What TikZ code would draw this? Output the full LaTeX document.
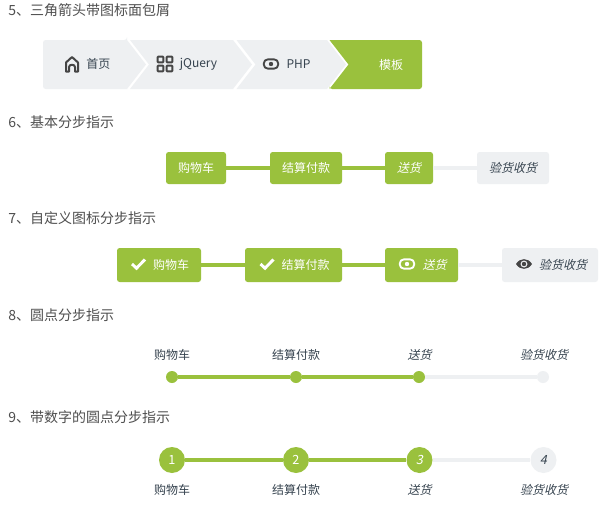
\documentclass[tikz,border=0pt]{standalone}
\usepackage{fontspec}
\setmainfont{Noto Sans CJK SC}
\newfontfamily\slantcjk[FakeSlant=0.22]{Noto Sans CJK SC}
\definecolor{grn}{HTML}{9AC13D}
\definecolor{pale}{HTML}{EEF0F2}
\definecolor{ink}{HTML}{36434F}
\definecolor{head}{HTML}{4F4F4F}
\definecolor{icon}{HTML}{454545}
\tikzset{
  px/.style={x=0.75pt,y=-0.75pt},
  title/.style={anchor=west,inner sep=0pt,text=head,font=\fontsize{10.5pt}{12pt}\selectfont},
  lab/.style={inner sep=0pt,text=ink,font=\fontsize{9pt}{11pt}\selectfont},
  labw/.style={inner sep=0pt,text=white,font=\fontsize{9pt}{11pt}\selectfont},
  labi/.style={inner sep=0pt,text=ink,font=\slantcjk\fontsize{9pt}{11pt}\selectfont},
  labwi/.style={inner sep=0pt,text=white,font=\slantcjk\fontsize{9pt}{11pt}\selectfont},
  boxon/.style={fill=grn,rounded corners=2pt,inner sep=0pt},
  boxoff/.style={fill=pale,rounded corners=2pt,inner sep=0pt},
  linkon/.style={draw=grn,line width=3pt},
  linkoff/.style={draw=pale,line width=3pt},
  doton/.style={circle,fill=grn,inner sep=0pt,minimum size=9pt},
  dotoff/.style={circle,fill=pale,inner sep=0pt,minimum size=9pt},
  bigon/.style={circle,fill=grn,inner sep=0pt,minimum size=19.5pt,text=white,font=\fontsize{9.5pt}{11pt}\selectfont},
  bigoff/.style={circle,fill=pale,inner sep=0pt,minimum size=19.5pt,text=ink,font=\fontsize{9.5pt}{11pt}\selectfont},
}
\newcommand{\pillicon}[2]{%
  \draw[#2,line width=1.4pt,rounded corners=3pt] ($(#1)+(-7.2,-4.6)$) rectangle ($(#1)+(7.2,4.6)$);
  \fill[#2] (#1) circle (2.2);}
\newcommand{\checkicon}[2]{%
  \draw[#2,line width=2.2pt] ($(#1)+(-6.5,0)$) -- ($(#1)+(-2,4.2)$) -- ($(#1)+(6.5,-4.5)$);}
\newcommand{\eyeicon}[2]{%
  \fill[#2,even odd rule] ($(#1)+(-8,0)$) .. controls ($(#1)+(-4,-6.5)$) and ($(#1)+(4,-6.5)$) .. ($(#1)+(8,0)$) .. controls ($(#1)+(4,6.5)$) and ($(#1)+(-4,6.5)$) .. ($(#1)+(-8,0)$) -- cycle ($(#1)+(3.6,0)$) arc (0:360:3.6);
  \fill[#2] (#1) circle (2.2);}
\usetikzlibrary{calc}
\begin{document}
\begin{tikzpicture}[px]
\useasboundingbox (0,0) rectangle (601,511);
\fill[white] (0,0) rectangle (601,511);
% titles
\node[title] (t5) at (8,10) {5、三角箭头带图标面包屑};
\node[title] (t6) at (8,122) {6、基本分步指示};
\node[title] (t7) at (8,218) {7、自定义图标分步指示};
\node[title] (t8) at (8,315) {8、圆点分步指示};
\node[title] (t9) at (8,417) {9、带数字的圆点分步指示};
% breadcrumb
\fill[pale,rounded corners=2pt] (43,40) -- (127,40) [sharp corners] -- (127,40) -- (146,64.5) -- (127,89) [rounded corners=2pt] -- (43,89) -- cycle;
\fill[pale] (130,40) -- (233,40) -- (252,64.5) -- (233,89) -- (130,89) -- (149,64.5) -- cycle;
\fill[pale] (236.5,40) -- (327,40) -- (346,64.5) -- (327,89) -- (236.5,89) -- (255.5,64.5) -- cycle;
\fill[grn,rounded corners=2pt] (329.5,40) -- (422,40) -- (422,89) -- (329.5,89) [sharp corners] -- (329.5,89) -- (348.5,64.5) -- cycle;
\draw[icon,line width=1.5pt,line join=round] (66,71.5) -- (66,62.5) -- (72,57) -- (78,62.5) -- (78,71.5) -- (75,71.5) -- (75,67) .. controls (75,64) and (69,64) .. (69,67) -- (69,71.5) -- cycle;
\foreach \gx in {160.5,169.5}\foreach \gy in {59.5,68.5}
  \draw[icon,line width=1.4pt,rounded corners=0.6pt] (\gx-2.9,\gy-2.9) rectangle (\gx+2.9,\gy+2.9);
\coordinate (pb) at (271,64);
\pillicon{pb}{icon}
\node[lab] (b1) at (98.5,64) {首页};
\node[lab] (b2) at (198.5,64.5) {jQuery};
\node[lab] (b3) at (298.5,64) {PHP};
\node[labw] (b4) at (391,64.5) {模板};
% basic steps
\node[boxon,minimum width=45pt,minimum height=24pt,labw] (s1) at (196,168) {\raisebox{-0.5pt}{购物车}};
\node[boxon,minimum width=54pt,minimum height=24pt,labw] (s2) at (306,168) {\raisebox{-0.5pt}{结算付款}};
\node[boxon,minimum width=36pt,minimum height=24pt,labwi] (s3) at (409,168) {\raisebox{-0.5pt}{送货}};
\node[boxoff,minimum width=54pt,minimum height=24pt,labi] (s4) at (513,168) {\raisebox{-0.5pt}{验货收货}};
\draw[linkon] (s1) -- (s2);
\draw[linkon] (s2) -- (s3);
\draw[linkoff] (s3) -- (s4);
% icon steps
\node[boxon,minimum width=63pt,minimum height=25.5pt] (c1) at (159,265) {};
\node[boxon,minimum width=72.75pt,minimum height=25.5pt] (c2) at (293.5,265) {};
\node[boxon,minimum width=54.75pt,minimum height=25.5pt] (c3) at (421.5,265) {};
\node[boxoff,minimum width=72pt,minimum height=25.5pt] (c4) at (550,265) {};
\draw[linkon] (c1) -- (c2);
\draw[linkon] (c2) -- (c3);
\draw[linkoff] (c3) -- (c4);
\coordinate (k1) at (138.5,264);
\coordinate (k2) at (267,264);
\coordinate (k3) at (407,264);
\coordinate (k4) at (524,264);
\checkicon{k1}{white}
\checkicon{k2}{white}
\pillicon{k3}{white}
\eyeicon{k4}{icon}
\node[labw] (cl1) at (171,264.5) {购物车};
\node[labw] (cl2) at (305.5,264.5) {结算付款};
\node[labwi] (cl3) at (434.5,264.5) {送货};
\node[labi] (cl4) at (563,264.5) {验货收货};
% dot steps
\node[doton] (d1) at (172,377) {};
\node[doton] (d2) at (296,377) {};
\node[doton] (d3) at (419,377) {};
\node[dotoff] (d4) at (543,377) {};
\draw[linkoff] (d3) -- (d4);
\draw[linkon] (d1) -- (d2);
\draw[linkon] (d2) -- (d3);
\node[lab] (dl1) at (172,355) {购物车};
\node[lab] (dl2) at (296,355) {结算付款};
\node[labi] (dl3) at (419.5,355) {送货};
\node[labi] (dl4) at (544,355) {验货收货};
% numbered steps
\node[bigon] (n1) at (172,460) {1};
\node[bigon] (n2) at (296,460) {2};
\node[bigon,font=\slantcjk\fontsize{9.5pt}{11pt}\selectfont] (n3) at (419.5,460) {3};
\node[bigoff,font=\slantcjk\fontsize{9.5pt}{11pt}\selectfont] (n4) at (543.5,460) {4};
\draw[linkon] (n1) -- (n2);
\draw[linkon] (n2) -- (n3);
\draw[linkoff] (n3) -- (n4);
\node[lab] (nl1) at (172,490) {购物车};
\node[lab] (nl2) at (296,490) {结算付款};
\node[labi] (nl3) at (419.5,490) {送货};
\node[labi] (nl4) at (544,490) {验货收货};
\end{tikzpicture}
\end{document}
